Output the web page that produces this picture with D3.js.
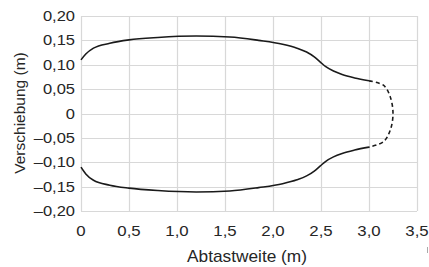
<!DOCTYPE html>
<html>
<head>
<meta charset="utf-8">
<script src="https://cdn.jsdelivr.net/npm/d3@7"></script>
<style>
body { margin: 0; background: #fff; }
text { font-family: "Liberation Sans", Arial, sans-serif; fill: #262626; }
</style>
</head>
<body>
<div id="chart"></div>
<script>
// achsen
var xTicks = [0, 0.5, 1.0, 1.5, 2.0, 2.5, 3.0, 3.5];
var yTicks = [-0.20, -0.15, -0.10, -0.05, 0, 0.05, 0.10, 0.15, 0.20];

// obere kurve
var upperX = [0, 0.05, 0.13, 0.3, 0.5, 0.8, 1.2, 1.55, 1.85, 2.1, 2.25, 2.35, 2.43, 2.49, 2.55, 2.63, 2.72, 2.85, 3.0];
var upperY = [0.110, 0.122, 0.134, 0.144, 0.151, 0.156, 0.159, 0.157, 0.150, 0.142, 0.134, 0.126, 0.116, 0.106, 0.096, 0.087, 0.080, 0.073, 0.067];

// untere kurve
var lowerX = [0, 0.05, 0.13, 0.3, 0.5, 0.8, 1.2, 1.55, 1.85, 2.1, 2.25, 2.35, 2.43, 2.49, 2.55, 2.63, 2.72, 2.85, 3.0];
var lowerY = [-0.110, -0.124, -0.137, -0.147, -0.153, -0.158, -0.161, -0.159, -0.152, -0.144, -0.136, -0.128, -0.118, -0.108, -0.098, -0.089, -0.082, -0.075, -0.069];

// gestrichelter abschluss
var dashX = [3.0, 3.15, 3.22, 3.25, 3.22, 3.15, 3.0];
var dashY = [0.067, 0.058, 0.035, 0, -0.035, -0.058, -0.069];

function DessinChart() {
    var W = 429, H = 267;
    var left = 81, right = 417, top = 16, bottom = 211;

    var svg = d3.select('#chart').append('svg').attr('width', W).attr('height', H);

    var x = d3.scaleLinear().domain([0, 3.5]).range([left, right]);
    var y = d3.scaleLinear().domain([-0.2, 0.2]).range([bottom, top]);

    function fmtX(d) { return d === 0 ? '0' : d3.format('.1f')(d).replace('.', ','); }
    function fmtY(d) {
        if (Math.abs(d) < 1e-9) return '0';
        var s = d3.format('.2f')(Math.abs(d)).replace('.', ',');
        return d < 0 ? '\u2013' + s : s;
    }

    // gitter
    svg.append('g').selectAll('line').data(xTicks).enter().append('line')
        .attr('x1', function(d) { return Math.round(x(d)) + 0.5; })
        .attr('x2', function(d) { return Math.round(x(d)) + 0.5; })
        .attr('y1', top).attr('y2', bottom)
        .attr('stroke', '#d8d8d8').attr('stroke-width', 1.2);
    svg.append('g').selectAll('line').data(yTicks).enter().append('line')
        .attr('y1', function(d) { return Math.round(y(d)) + 0.5; })
        .attr('y2', function(d) { return Math.round(y(d)) + 0.5; })
        .attr('x1', left).attr('x2', right)
        .attr('stroke', '#d8d8d8').attr('stroke-width', 1.2);

    // beschriftung (etwas breiter gezogen wie im original)
    svg.append('g').selectAll('text').data(xTicks).enter().append('text')
        .attr('transform', function(d) { return 'translate(' + x(d) + ',236) scale(1.12,1)'; })
        .attr('text-anchor', 'middle')
        .style('font-size', '15px')
        .text(fmtX);
    svg.append('g').selectAll('text').data(yTicks).enter().append('text')
        .attr('transform', function(d) { return 'translate(' + (left - 6) + ',' + (y(d) + 5) + ') scale(1.1,1)'; })
        .attr('text-anchor', 'end')
        .style('font-size', '15px')
        .text(fmtY);

    svg.append('text').attr('transform', 'translate(247,262) scale(1.08,1)')
        .attr('text-anchor', 'middle').style('font-size', '16px')
        .text('Abtastweite (m)');
    svg.append('text').attr('transform', 'translate(25,113) rotate(-90)')
        .attr('text-anchor', 'middle').style('font-size', '15.5px')
        .text('Verschiebung (m)');

    // kurven
    var line = d3.line()
        .x(function(d) { return x(d[0]); })
        .y(function(d) { return y(d[1]); })
        .curve(d3.curveMonotoneX);
    var lineDash = d3.line()
        .x(function(d) { return x(d[0]); })
        .y(function(d) { return y(d[1]); })
        .curve(d3.curveCatmullRom.alpha(0.5));

    var upper = d3.zip(upperX, upperY), lower = d3.zip(lowerX, lowerY), dash = d3.zip(dashX, dashY);

    svg.append('path').attr('d', line(upper)).attr('fill', 'none')
        .attr('stroke', '#1a1a1a').attr('stroke-width', 1.6);
    svg.append('path').attr('d', line(lower)).attr('fill', 'none')
        .attr('stroke', '#1a1a1a').attr('stroke-width', 1.6);
    svg.append('path').attr('d', lineDash(dash)).attr('fill', 'none')
        .attr('stroke', '#1a1a1a').attr('stroke-width', 1.6)
        .attr('stroke-dasharray', '4,3');

    // kleiner strich unten rechts
    svg.append('line').attr('x1', 427.5).attr('x2', 427.5).attr('y1', 247).attr('y2', 253)
        .attr('stroke', '#aaa').attr('stroke-width', 1);
}

DessinChart();
</script>
</body>
</html>
